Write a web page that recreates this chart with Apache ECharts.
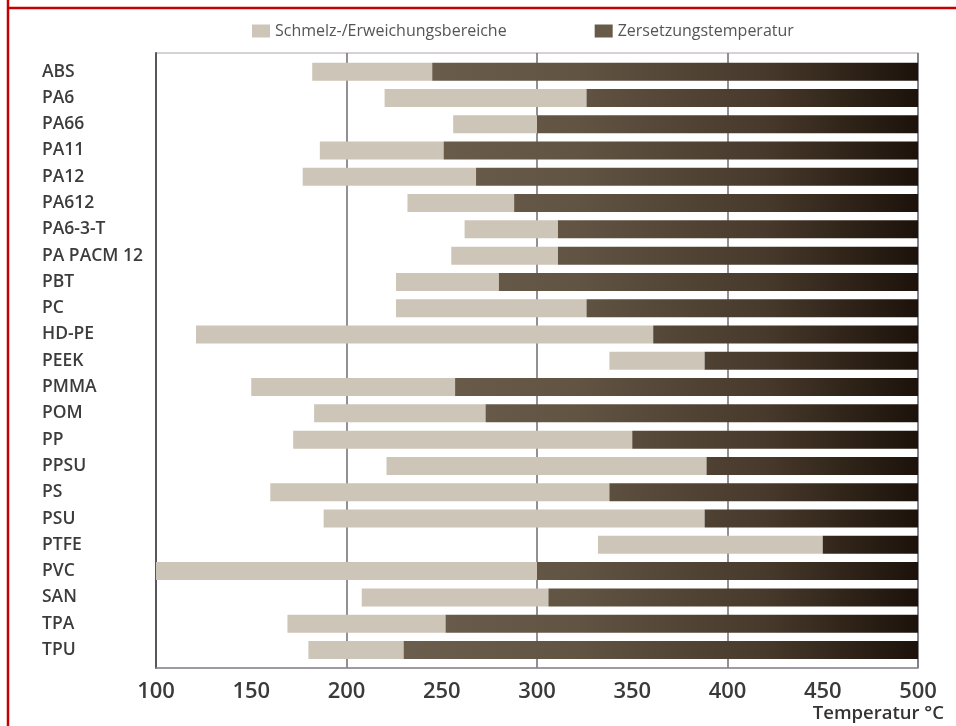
<!DOCTYPE html>
<html>
<head>
<meta charset="utf-8">
<script src="https://cdn.jsdelivr.net/npm/echarts@6/dist/echarts.min.js"></script>
<style>html,body{margin:0;padding:0;background:#fff;}#c{width:956px;height:726px;}</style>
</head>
<body>
<div id="c"></div>
<script>
const categories = ['ABS','PA6','PA66','PA11','PA12','PA612','PA6-3-T','PA PACM 12','PBT','PC','HD-PE','PEEK','PMMA','POM','PP','PPSU','PS','PSU','PTFE','PVC','SAN','TPA','TPU'];
// start of melting / softening range (°C)
const meltStart = [182,220,256,186,177,232,262,255,226,226,121,338,150,183,172,221,160,188,332,100,208,169,180];
// decomposition temperature (°C)
const decompTemp = [245,326,300,251,268,288,311,311,280,326,361,388,257,273,350,389,338,388,450,300,306,252,230];
// end of the decomposition bar (°C)
const barEnd = [500,500,500,500,500,500,500,500,500,500,500,500,500,500,500,500,500,500,500,500,500,500,500];
const xTicks = [100,150,200,250,300,350,400,450,500];
const nameMelt = 'Schmelz-/Erweichungsbereiche';
const nameDecomp = 'Zersetzungstemperatur';

const chart = echarts.init(document.getElementById('c'), null, {renderer:'canvas'});
const meltLen = meltStart.map((v,i)=>decompTemp[i]-v);
const decompLen = decompTemp.map((v,i)=>barEnd[i]-v);
const darkGrad = new echarts.graphic.LinearGradient(156,0,918,0,[
  {offset:0,color:'#786b5b'},
  {offset:0.55,color:'#615443'},
  {offset:0.8,color:'#47392b'},
  {offset:1,color:'#1c120a'}
], true);

chart.setOption({
  animation:false,
  backgroundColor:'#fff',
  textStyle:{fontFamily:'Open Sans'},
  legend:{
    left:247, top:18,
    itemWidth:18, itemHeight:13, itemGap:88,
    icon:'rect',
    textStyle:{fontFamily:'Open Sans', fontSize:16, color:'#555'},
    data:[
      {name:nameMelt, itemStyle:{color:'#cdc5b8'}},
      {name:nameDecomp, itemStyle:{color:'#675a48'}}
    ]
  },
  grid:[
    {left:156, right:38, top:58.5, height:604.6},
    {left:156, right:38, top:53, bottom:58, show:true, borderColor:'#a9a5ab', borderWidth:1.2, z:0}
  ],
  xAxis:[
    {type:'value', gridIndex:0, min:100, max:500, interval:50,
     axisLine:{show:false}, axisTick:{show:false}, splitLine:{show:false},
     axisLabel:{fontFamily:'Open Sans', fontWeight:600, fontSize:22, color:'#3a3a3a', margin:18,
       formatter:v=>xTicks.includes(v)?String(v):''},
     name:'Temperatur °C', nameLocation:'end', nameGap:0,
     nameTextStyle:{fontFamily:'Open Sans', fontWeight:600, fontSize:18.5, color:'#333', align:'right', verticalAlign:'top', padding:[41,-26,0,0]}
    },
    {type:'value', gridIndex:1, min:100, max:500, interval:100,
     axisLine:{show:true, lineStyle:{color:'#8c8792', width:1.5}}, axisTick:{show:false}, axisLabel:{show:false},
     splitLine:{show:true, lineStyle:{color:'#6e6a72', width:1.5}}
    }
  ],
  yAxis:[
    {type:'category', gridIndex:0, data:categories, inverse:true,
     axisLine:{show:false}, axisTick:{show:false}, splitLine:{show:false},
     axisLabel:{align:'left', margin:114, fontFamily:'Open Sans', fontWeight:600, fontSize:17.5, color:'#3c3c3c'}
    },
    {type:'value', gridIndex:1, min:0, max:1, axisLabel:{show:false}, axisTick:{show:false}, splitLine:{show:false},
     axisLine:{show:true, lineStyle:{color:'#5a5660', width:2}}
    }
  ],
  series:[
    {name:'base', type:'bar', stack:'t', xAxisIndex:0, yAxisIndex:0, data:meltStart, barWidth:18,
     itemStyle:{color:'rgba(0,0,0,0)'}, silent:true, z:3},
    {name:nameMelt, type:'bar', stack:'t', xAxisIndex:0, yAxisIndex:0, data:meltLen, barWidth:18,
     itemStyle:{color:'#cdc5b8'}, z:3},
    {name:nameDecomp, type:'bar', stack:'t', xAxisIndex:0, yAxisIndex:0, data:decompLen, barWidth:18,
     itemStyle:{color:darkGrad}, z:3}
  ],
  graphic:[
    {type:'line', shape:{x1:8, y1:0, x2:8, y2:726}, style:{stroke:'#c40000', lineWidth:2.5}, z:10},
    {type:'line', shape:{x1:7, y1:8, x2:956, y2:8}, style:{stroke:'#c40000', lineWidth:2.5}, z:10}
  ]
});
</script>
</body>
</html>
